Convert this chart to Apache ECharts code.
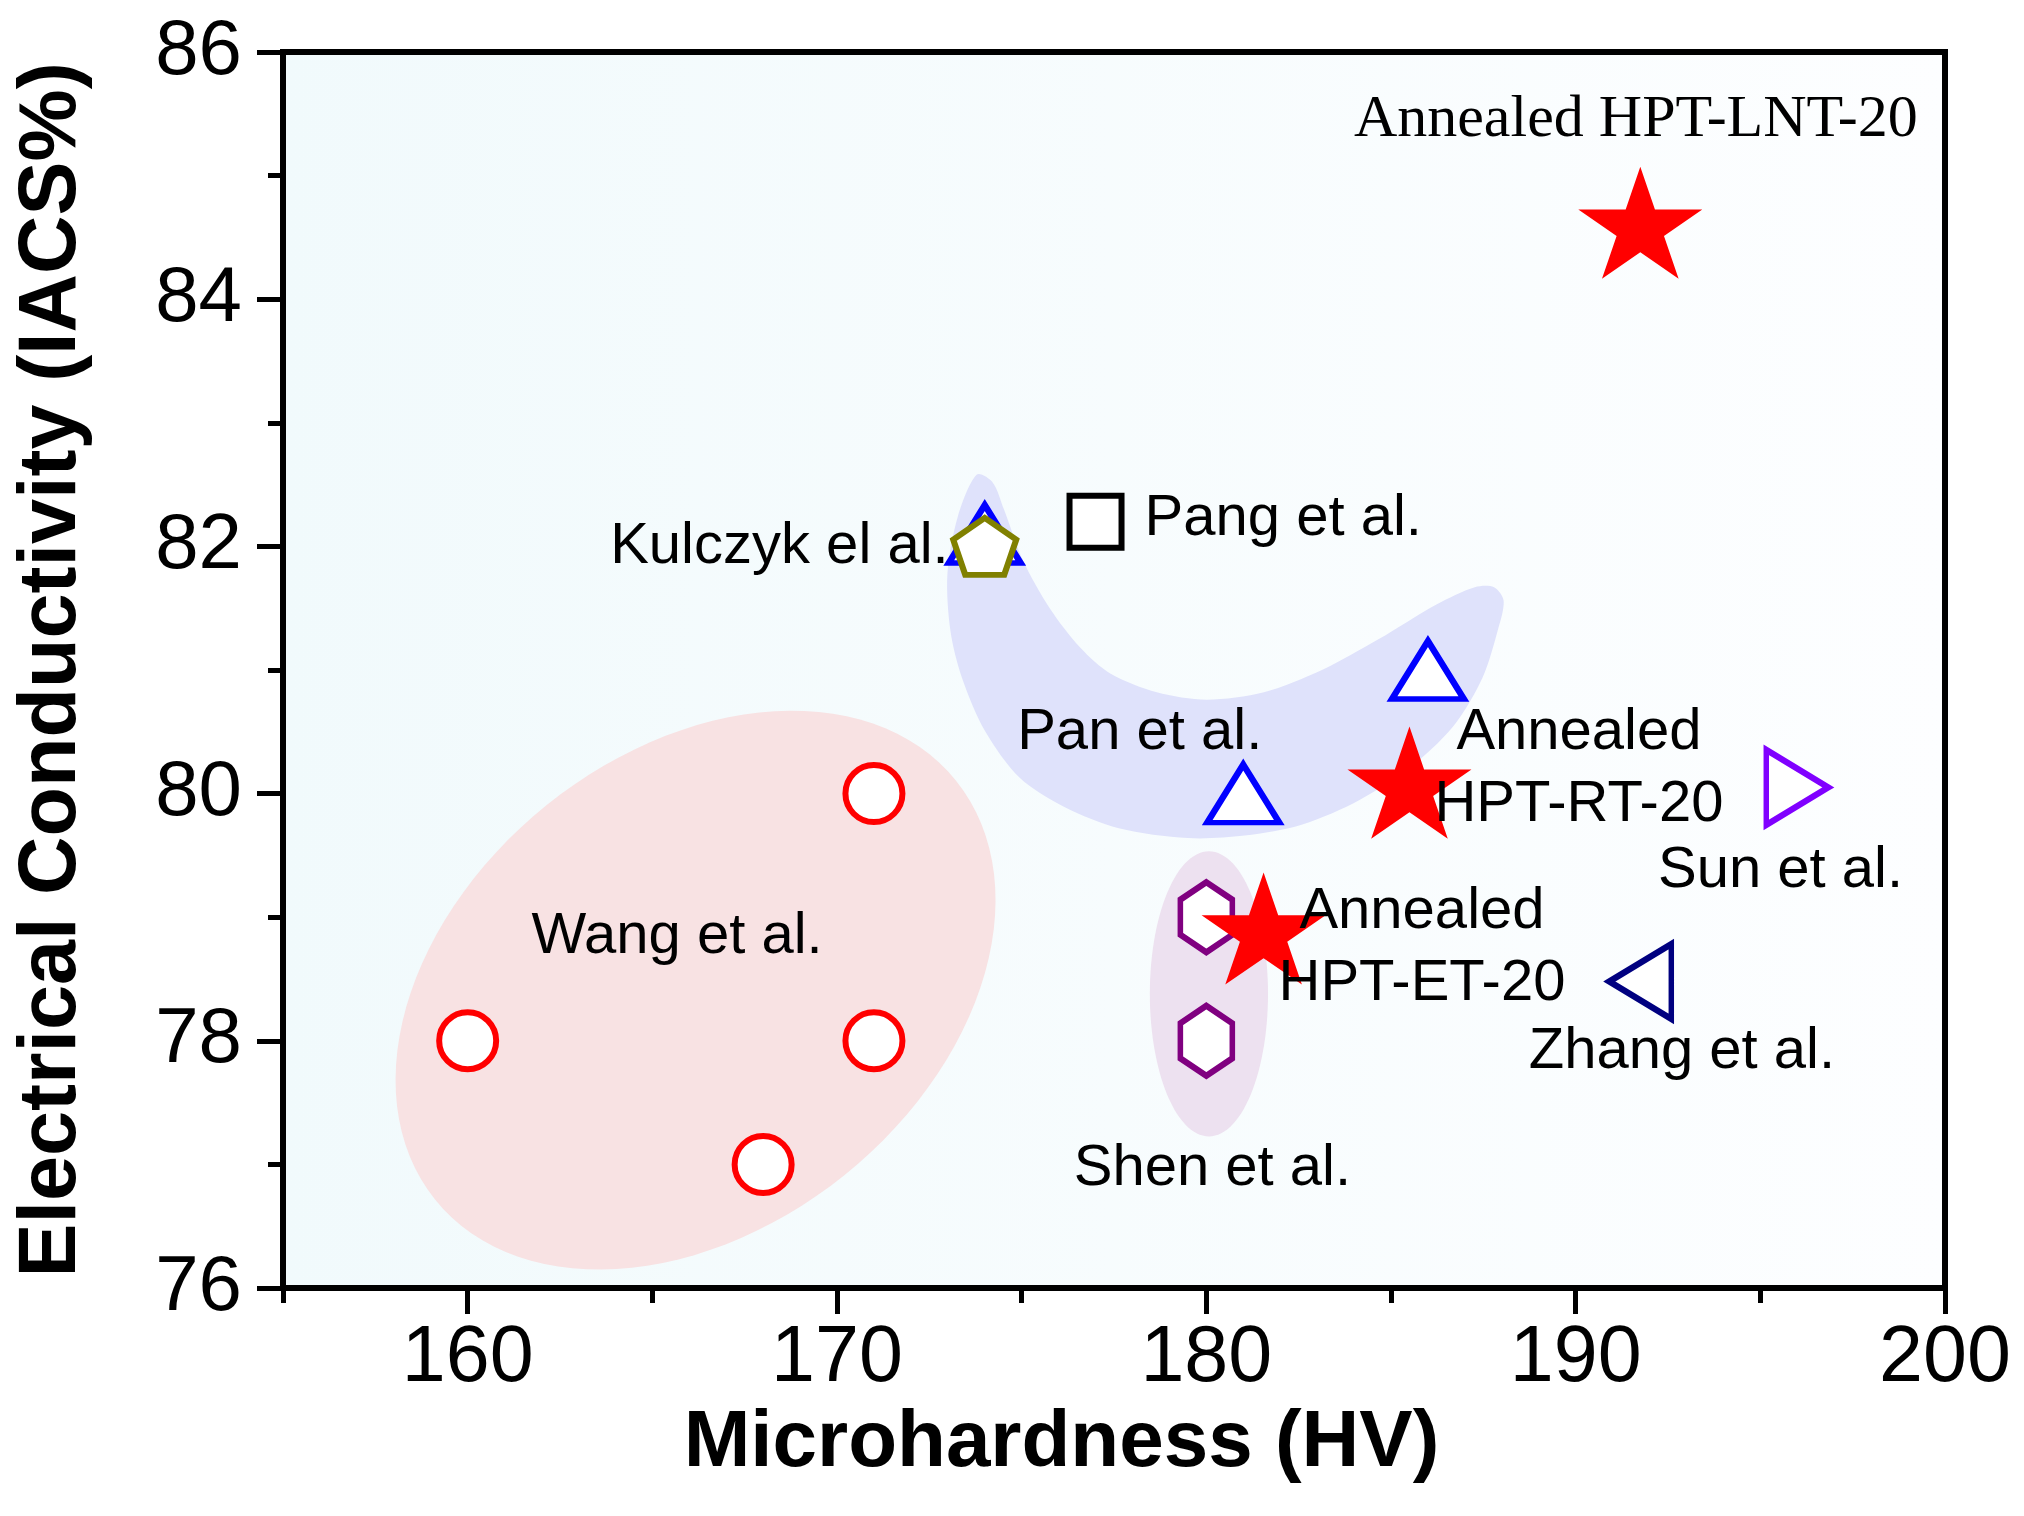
<!DOCTYPE html>
<html>
<head>
<meta charset="utf-8">
<script src="https://cdn.jsdelivr.net/npm/echarts@6/dist/echarts.min.js"></script>
<style>
html,body{margin:0;padding:0;background:#ffffff;}
#chart{width:2024px;height:1516px;}
</style>
</head>
<body>
<div id="chart"></div>
<script>
// ---------- data ----------
const xMajorTicks = [160, 170, 180, 190, 200];
const xMinorTicks = [155, 165, 175, 185, 195];
const yMajorTicks = [76, 78, 80, 82, 84, 86];

const wangData = [[160, 78], [171, 80], [171, 78], [168, 77]];
const panData = [[174, 82.1], [181, 80], [186, 81]];
const kulczykData = [[174, 82]];
const pangData = [[177, 82.2]];
const shenData = [[180, 79], [180, 78]];
const sunData = [[196, 80.05]];
const zhangData = [[191.75, 78.48]];
const annealedData = [[191.75, 84.57], [185.5, 80.04], [181.55, 78.86]];

const labelTexts = ['Annealed HPT-LNT-20', 'Kulczyk el al.', 'Pang et al.', 'Pan et al.',
  'Annealed\nHPT-RT-20', 'Annealed\nHPT-ET-20', 'Sun et al.', 'Zhang et al.', 'Shen et al.', 'Wang et al.'];
const labelAnchors = [[191.63, 85.45], [163.86, 81.995], [178.33, 82.22], [174.88, 80.49],
  [190.09, 80.20], [185.84, 78.75], [192.23, 79.37], [188.73, 77.905], [176.41, 76.96], [161.73, 78.84]];

// shaded groups (semi-axes expressed in x-axis units, angle in degrees)
const wangRegion = {center: [166.17, 78.41], a: 9.05, b: 6.43, angle: 38.8};
const shenRegion = {center: [180.07, 78.38], a: 3.86, b: 1.6, angle: 90};
const panRegion = [
  [173.78, 82.58], [173.27, 82.24], [172.99, 81.78], [173.07, 81.32], [173.38, 80.94],
  [174.00, 80.51], [174.94, 80.13], [176.17, 79.89], [177.63, 79.72], [179.50, 79.64],
  [181.04, 79.66], [182.60, 79.75], [184.16, 79.95], [185.71, 80.26], [186.75, 80.57],
  [187.48, 80.94], [187.89, 81.32], [188.05, 81.56], [187.79, 81.67], [187.27, 81.67],
  [186.23, 81.53], [184.67, 81.25], [183.13, 81.00], [181.56, 80.82], [180.01, 80.76],
  [178.66, 80.82], [177.41, 80.97], [176.59, 81.18], [175.76, 81.50], [175.03, 81.89],
  [174.52, 82.30], [174.21, 82.52]
];

// ---------- symbols ----------
function polyPath(n, inner) {
  const pts = [];
  const steps = inner ? n * 2 : n;
  for (let i = 0; i < steps; i++) {
    const r = inner && (i % 2 === 1) ? 50 * inner : 50;
    const ang = (-90 + i * 360 / steps) * Math.PI / 180;
    pts.push((r * Math.cos(ang)).toFixed(3) + ',' + (r * Math.sin(ang)).toFixed(3));
  }
  return 'path://M' + pts.join('L') + 'Z';
}
const starSymbol = polyPath(5, 0.382);
const pentSymbol = polyPath(5);
const hexSymbol = polyPath(6);

const SANS = "'Liberation Sans', Arial, sans-serif";
const NARROW = "'Liberation Sans Narrow', 'Liberation Sans', Arial, sans-serif";
const SERIF = "'Liberation Serif', 'Times New Roman', serif";

const labelStyleList = [
  {fontFamily: SERIF, fontSize: 60, align: 'center'},
  {align: 'left'}, {align: 'left'}, {align: 'left'},
  {align: 'center'}, {align: 'center'},
  {align: 'left'}, {align: 'left'}, {align: 'left'}, {align: 'left'}
];

function ellipseSeries(region, color) {
  return {
    type: 'custom', coordinateSystem: 'cartesian2d', silent: true, z: 1,
    data: [region.center],
    renderItem: function (params, api) {
      const c = api.coord([api.value(0), api.value(1)]);
      const px = api.size([1, 1])[0];
      const a = region.a * px, b = region.b * px;
      const th = region.angle * Math.PI / 180;
      const pts = [];
      for (let i = 0; i < 120; i++) {
        const t = i / 120 * Math.PI * 2;
        const ux = a * Math.cos(t), uy = b * Math.sin(t);
        pts.push([c[0] + ux * Math.cos(th) - uy * Math.sin(th), c[1] - (ux * Math.sin(th) + uy * Math.cos(th))]);
      }
      return {type: 'polygon', shape: {points: pts}, style: {fill: color}};
    }
  };
}

function scatter(data, symbol, size, color, opts, borderWidth) {
  return Object.assign({
    type: 'scatter', data: data, symbol: symbol, symbolSize: size, z: 5,
    symbolKeepAspect: true, silent: true,
    itemStyle: {color: '#ffffff', borderColor: color, borderWidth: borderWidth || 6, opacity: 1}
  }, opts || {});
}

const chart = echarts.init(document.getElementById('chart'), null, {renderer: 'canvas'});
chart.setOption({
  animation: false,
  backgroundColor: '#ffffff',
  grid: {
    left: 283, top: 52, right: 79, bottom: 228, show: true,
    borderColor: '#000000', borderWidth: 6,
    backgroundColor: new echarts.graphic.LinearGradient(0, 0, 1, 0, [
      {offset: 0, color: '#f1fafc'}, {offset: 1, color: '#fdfeff'}
    ])
  },
  xAxis: [{
    type: 'value', min: 155, max: 200, position: 'bottom',
    axisLine: {show: true, onZero: false, lineStyle: {color: '#000', width: 6}},
    axisTick: {show: true, customValues: xMajorTicks, length: 26, lineStyle: {color: '#000', width: 5}},
    axisLabel: {customValues: xMajorTicks, fontSize: 79, color: '#000', fontFamily: NARROW, margin: 32},
    splitLine: {show: false},
    name: 'Microhardness (HV)', nameLocation: 'middle', nameGap: 109,
    nameTextStyle: {fontSize: 80, fontWeight: 'bold', color: '#000', fontFamily: SANS, padding: [0, 105, 0, 0]}
  }, {
    type: 'value', min: 155, max: 200, position: 'bottom',
    axisLine: {show: false},
    axisTick: {show: true, customValues: xMinorTicks, length: 15, lineStyle: {color: '#000', width: 5}},
    axisLabel: {show: false},
    splitLine: {show: false}
  }],
  yAxis: {
    type: 'value', min: 76, max: 86, interval: 2,
    axisLine: {show: true, onZero: false, lineStyle: {color: '#000', width: 6}},
    axisTick: {show: true, customValues: yMajorTicks, length: 26, lineStyle: {color: '#000', width: 5}},
    minorTick: {show: true, splitNumber: 2, length: 15, lineStyle: {color: '#000', width: 5}},
    axisLabel: {customValues: yMajorTicks, fontSize: 78, color: '#000', fontFamily: NARROW, margin: 41},
    splitLine: {show: false}, minorSplitLine: {show: false},
    name: 'Electrical Conductivity (IACS%)', nameLocation: 'middle', nameGap: 190,
    nameTextStyle: {fontSize: 81, fontWeight: 'bold', color: '#000', fontFamily: SANS}
  },
  series: [
    ellipseSeries(wangRegion, '#f8e2e3'),
    ellipseSeries(shenRegion, '#ede1f0'),
    {
      type: 'custom', coordinateSystem: 'cartesian2d', silent: true, z: 1,
      data: [panRegion[0]],
      renderItem: function (params, api) {
        const pts = panRegion.map(function (p) { return api.coord(p); });
        return {type: 'polygon', shape: {points: pts, smooth: 0.3}, style: {fill: '#dfe2fb'}};
      }
    },
    scatter(wangData, 'circle', 57, '#ff0000'),
    scatter(panData, 'triangle', [72, 58], '#0000ff', {symbolKeepAspect: false}),
    scatter(kulczykData, pentSymbol, [63, 60], '#808000', {z: 6}),
    scatter(pangData, 'rect', 52, '#000000'),
    scatter(shenData, hexSymbol, [60, 70], '#800080', null, 6),
    scatter(sunData, 'triangle', [75, 62], '#8000ff', {symbolRotate: -90, symbolKeepAspect: false}),
    scatter(zhangData, 'triangle', [75, 62], '#000080', {symbolRotate: 90, symbolKeepAspect: false}),
    {
      type: 'scatter', data: annealedData, symbol: starSymbol, symbolSize: [124, 118],
      symbolKeepAspect: true, symbolOffset: [0, -6], z: 7, silent: true,
      itemStyle: {color: '#ff0000', borderWidth: 0, opacity: 1}
    },
    {
      type: 'scatter', z: 10, silent: true, symbol: 'circle', symbolSize: 0.1,
      itemStyle: {color: 'rgba(0,0,0,0)', opacity: 1},
      data: labelAnchors.map(function (p, i) {
        return {
          value: p,
          label: Object.assign({
            show: true, formatter: labelTexts[i], position: [0, 0], opacity: 1,
            verticalAlign: 'middle', color: '#000000', fontFamily: SANS, fontSize: 58, lineHeight: 72
          }, labelStyleList[i])
        };
      })
    }
  ]
});
</script>
</body>
</html>
